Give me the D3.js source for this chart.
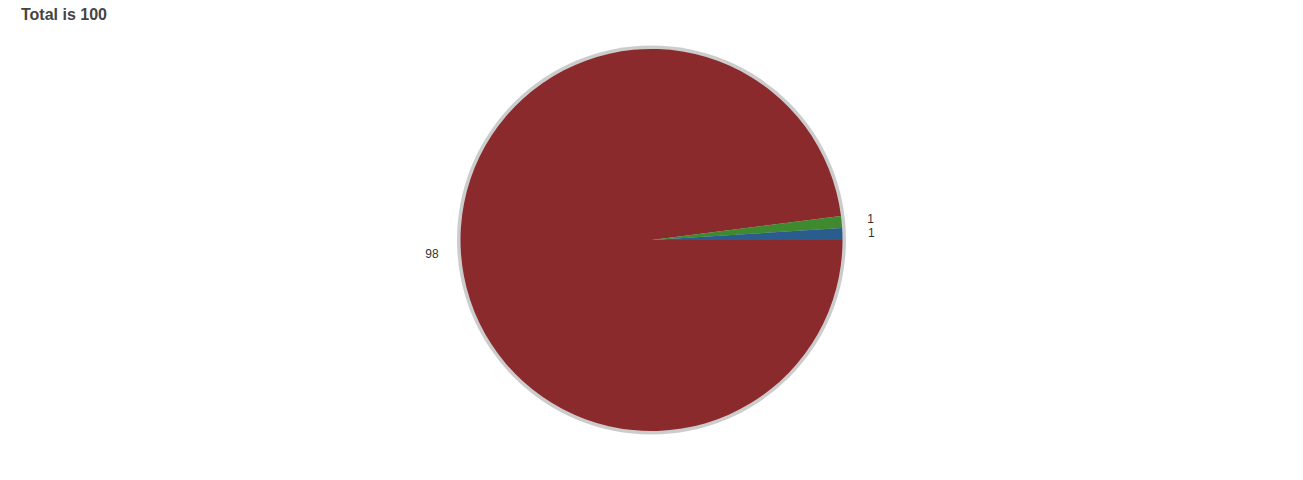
<!DOCTYPE html>
<html><head><meta charset="utf-8">
<script src="https://cdn.jsdelivr.net/npm/d3@7"></script>
<style>body{margin:0;background:#fff;}svg{display:block;}</style>
</head><body>
<script>
const categories = ["A", "B", "C"];
const values = [98, 1, 1];
const colors = ["#8a2a2c", "#3f8a2f", "#2b5c8e"];
const title = "Total is 100";

const W = 1303, H = 480;
const cx = 651.5, cy = 240, R = 191, labelR = 220;
const svg = d3.select("body").append("svg").attr("width", W).attr("height", H);

svg.append("text").attr("x", 21).attr("y", 20)
  .attr("font-family", "Liberation Sans, Arial, sans-serif")
  .attr("font-weight", "bold").attr("font-size", 16).attr("fill", "#444")
  .text(title);

const g = svg.append("g").attr("transform", `translate(${cx},${cy})`);
g.append("circle").attr("r", R + 3.5).attr("fill", "#cccccc");

const pie = d3.pie().sort(null).startAngle(Math.PI / 2).endAngle(Math.PI / 2 + 2 * Math.PI);
const arcs = pie(values);
const arc = d3.arc().innerRadius(0).outerRadius(R);
const labelArc = d3.arc().innerRadius(labelR).outerRadius(labelR);

g.selectAll("path.slice").data(arcs).enter().append("path")
  .attr("class", "slice").attr("d", arc).attr("fill", (d, i) => colors[i]);

g.selectAll("text.lbl").data(arcs).enter().append("text")
  .attr("class", "lbl")
  .attr("transform", d => `translate(${labelArc.centroid(d)})`)
  .attr("text-anchor", "middle").attr("dy", "0.35em")
  .attr("font-family", "Liberation Sans, Arial, sans-serif")
  .attr("font-size", 12).attr("fill", "#333")
  .text(d => d.data);
</script>
</body></html>
